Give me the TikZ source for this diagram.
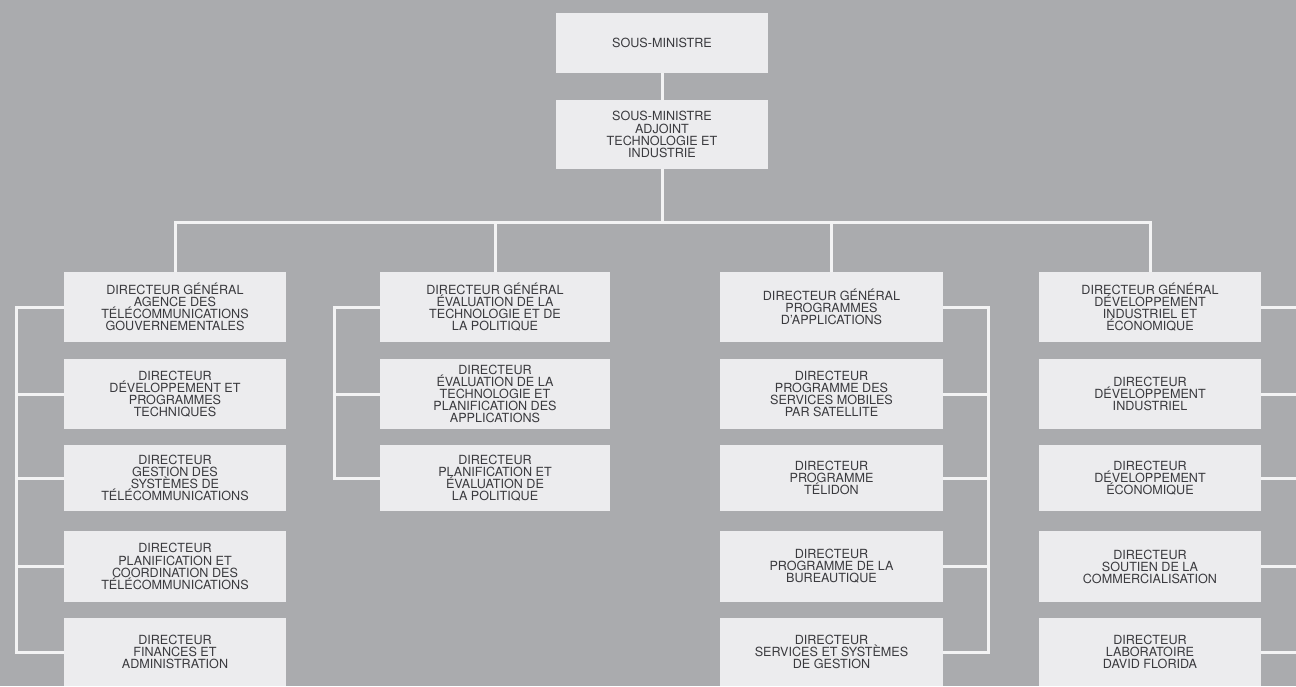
\documentclass[tikz,border=0pt]{standalone}
\usepackage{fontspec}
\setmainfont{TeX Gyre Heros}
\usepackage{tikz}
\usetikzlibrary{positioning,calc}
\usepackage{xcolor}
\definecolor{bgcol}{RGB}{170,171,174}
\definecolor{boxcol}{RGB}{236,236,238}
\definecolor{linecol}{RGB}{243,243,244}
\definecolor{txtcol}{RGB}{58,58,62}
\tikzset{
  % office box
  obox/.style={rectangle, fill=boxcol, text=txtcol, align=center, inner sep=0pt,
               minimum width=#1, minimum height=70pt,
               font=\fontsize{12.6}{12.1}\selectfont},
  obox/.default={222pt},
  % connecting line
  link/.style={draw=linecol, line width=3pt, line join=miter},
}

\begin{document}
\begin{tikzpicture}[x=1pt, y=-1pt]
  \useasboundingbox (0,0) rectangle (1296,686);
  \fill[bgcol] (0,0) rectangle (1296,686);

  % top of the chart
  \node[obox=212pt, minimum height=60pt] (sm) at (662,43) {SOUS-MINISTRE};
  \node[obox=212pt, minimum height=69pt] (sma) at (662,134.5)
    {SOUS-MINISTRE\\ADJOINT\\TECHNOLOGIE ET\\INDUSTRIE};
  \coordinate (bus) at (662,222);

  % first column
  \node[obox] (g1) at (175,307)
    {DIRECTEUR GÉNÉRAL\\AGENCE DES\\TÉLÉCOMMUNICATIONS\\GOUVERNEMENTALES};
  \node[obox] (d12) at (175,394) {DIRECTEUR\\DÉVELOPPEMENT ET\\PROGRAMMES\\TECHNIQUES};
  \node[obox, minimum height=66pt] (d13) at (175,478)
    {DIRECTEUR\\GESTION DES\\SYSTÈMES DE\\TÉLÉCOMMUNICATIONS};
  \node[obox, minimum height=71pt] (d14) at (175,566.5)
    {DIRECTEUR\\PLANIFICATION ET\\COORDINATION DES\\TÉLÉCOMMUNICATIONS};
  \node[obox, minimum height=68pt] (d15) at (175,652) {DIRECTEUR\\FINANCES ET\\ADMINISTRATION};
  \coordinate (b1) at (16,307);

  % second column
  \node[obox=230pt] (g2) at (495,307)
    {DIRECTEUR GÉNÉRAL\\ÉVALUATION DE LA\\TECHNOLOGIE ET DE\\LA POLITIQUE};
  \node[obox=230pt] (d22) at (495,394)
    {DIRECTEUR\\ÉVALUATION DE LA\\TECHNOLOGIE ET\\PLANIFICATION DES\\APPLICATIONS};
  \node[obox=230pt, minimum height=66pt] (d23) at (495,478)
    {DIRECTEUR\\PLANIFICATION ET\\ÉVALUATION DE\\LA POLITIQUE};
  \coordinate (b2) at (334,307);

  % third column
  \node[obox=223pt] (g3) at (831.5,307) {DIRECTEUR GÉNÉRAL\\PROGRAMMES\\D'APPLICATIONS};
  \node[obox=223pt] (d32) at (831.5,394)
    {DIRECTEUR\\PROGRAMME DES\\SERVICES MOBILES\\PAR SATELLITE};
  \node[obox=223pt, minimum height=66pt] (d33) at (831.5,478) {DIRECTEUR\\PROGRAMME\\TÉLIDON};
  \node[obox=223pt, minimum height=71pt] (d34) at (831.5,566.5)
    {DIRECTEUR\\PROGRAMME DE LA\\BUREAUTIQUE};
  \node[obox=223pt, minimum height=68pt] (d35) at (831.5,652)
    {DIRECTEUR\\SERVICES ET SYSTÈMES\\DE GESTION};
  \coordinate (b3) at (988,307);

  % fourth column
  \node[obox] (g4) at (1150,307)
    {DIRECTEUR GÉNÉRAL\\DÉVELOPPEMENT\\INDUSTRIEL ET\\ÉCONOMIQUE};
  \node[obox] (d42) at (1150,394) {DIRECTEUR\\DÉVELOPPEMENT\\INDUSTRIEL};
  \node[obox, minimum height=66pt] (d43) at (1150,478) {DIRECTEUR\\DÉVELOPPEMENT\\ÉCONOMIQUE};
  \node[obox, minimum height=71pt] (d44) at (1150,566.5)
    {DIRECTEUR\\SOUTIEN DE LA\\COMMERCIALISATION};
  \node[obox, minimum height=68pt] (d45) at (1150,652) {DIRECTEUR\\LABORATOIRE\\DAVID FLORIDA};
  \coordinate (b4) at (1306,307);

  % lines
  \draw[link] (sm.south) -- (sma.north);
  \draw[link] (sma.south) -- (bus);
  \draw[link] (g1.north) |- (bus) -| (g4.north);
  \draw[link] (g2.north) -- (g2.north |- bus);
  \draw[link] (g3.north) -- (g3.north |- bus);

  \draw[link] (g1.west) -- (g1.west -| b1) |- (d15.west);
  \foreach \n in {d12,d13,d14}
    \draw[link] (\n.west) -- (\n.west -| b1);

  \draw[link] (g2.west) -- (g2.west -| b2) |- (d23.west);
  \draw[link] (d22.west) -- (d22.west -| b2);

  \draw[link] (g3.east) -- (g3.east -| b3) |- (d35.east);
  \foreach \n in {d32,d33,d34}
    \draw[link] (\n.east) -- (\n.east -| b3);

  \draw[link] (g4.east) -- (g4.east -| b4) |- (d45.east);
  \foreach \n in {d42,d43,d44}
    \draw[link] (\n.east) -- (\n.east -| b4);
\end{tikzpicture}
\end{document}
